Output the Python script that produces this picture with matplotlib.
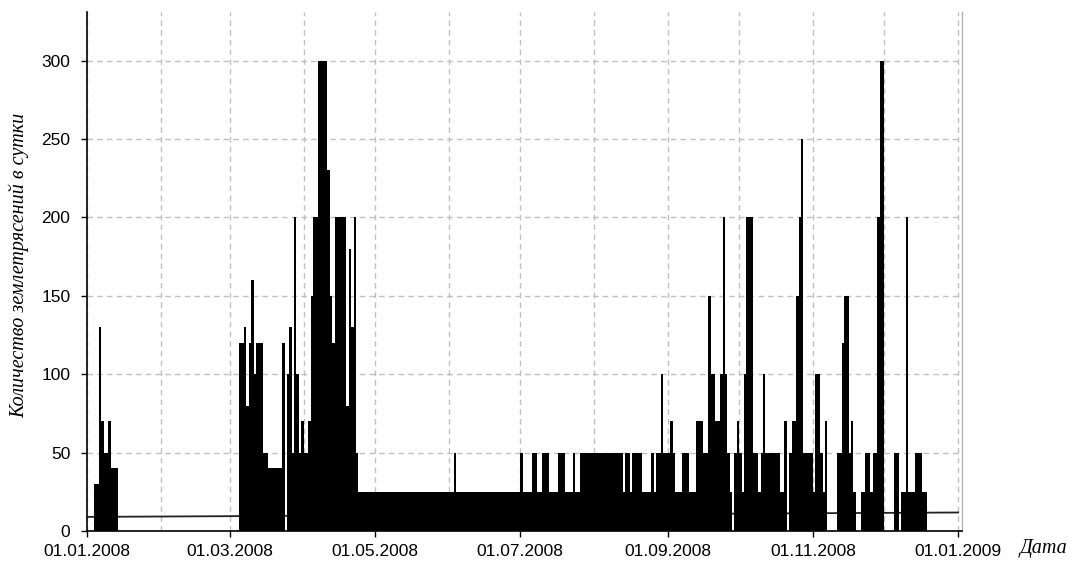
import numpy as np
import matplotlib
matplotlib.use("Agg")
import matplotlib.pyplot as plt
import matplotlib.dates as mdates

# ---------------- data ----------------
# Daily counts of earthquakes; each block of consecutive days starts at the given date
jan_start = "2008-01-04"
jan_counts = [30, 30, 130, 70, 50, 50, 70, 40, 40, 40]

spring_start = "2008-03-05"
spring_counts = [120, 120, 130, 80, 120, 160, 100, 120, 120, 120,
                 50, 50, 40, 40, 40, 40, 40, 40, 120, 0,
                 100, 130, 50, 200, 100, 50, 70, 50, 50, 70,
                 150, 200, 200, 300, 300, 300, 300, 230, 150, 120,
                 200, 200, 200, 200, 200, 80, 180, 130, 200, 50]

# From 24.04.2008 on: runs of equal daily counts (count, number of days)
late_start = "2008-04-24"
late_run_counts = [25, 50, 25, 50, 25, 50, 25, 50, 25, 50, 25, 50, 25, 50, 25, 50,
                   25, 50, 25, 50, 25, 50, 100, 50, 70, 50, 25, 50, 25, 70, 50,
                   150, 100, 70, 100, 200, 100, 50, 25, 0, 50, 70, 50, 25, 100,
                   200, 50, 25, 50, 100, 50, 25, 70, 0, 50, 70, 150, 200, 250,
                   50, 25, 100, 50, 25, 70, 0, 50, 120, 150, 50, 70, 25, 0, 25,
                   50, 25, 50, 200, 300, 0, 50, 0, 25, 200, 25, 50, 25]
late_run_days = [40, 1, 27, 1, 4, 2, 2, 3, 4, 3, 3, 1, 2, 18, 1, 2,
                 1, 4, 4, 1, 1, 2, 1, 3, 1, 1, 3, 3, 3, 3, 2,
                 1, 2, 2, 1, 1, 1, 1, 1, 1, 1, 1, 1, 1, 1,
                 3, 2, 1, 1, 1, 6, 2, 1, 1, 1, 2, 1, 1, 1,
                 4, 1, 2, 1, 1, 1, 4, 2, 1, 2, 1, 1, 1, 2, 2,
                 2, 1, 2, 1, 2, 4, 2, 1, 2, 1, 3, 3, 2]

# Straight reference line (count per day) at the start and end of the year
line_dates = ["2008-01-01", "2009-01-01"]
line_values = [9.0, 11.8]

tick_dates = ["2008-01-01", "2008-03-01", "2008-05-01", "2008-07-01",
              "2008-09-01", "2008-11-01", "2009-01-01"]
tick_labels = ["01.01.2008", "01.03.2008", "01.05.2008", "01.07.2008",
               "01.09.2008", "01.11.2008", "01.01.2009"]
y_ticks = [0, 50, 100, 150, 200, 250, 300]

ylabel = "Количество землетрясений в сутки"
xlabel = "Дата"

# ---------------- assemble daily series ----------------
def block_dates(start, n):
    return np.datetime64(start) + np.arange(n).astype("timedelta64[D]")

late_counts = np.repeat(late_run_counts, late_run_days)
dates = np.concatenate([block_dates(jan_start, len(jan_counts)),
                        block_dates(spring_start, len(spring_counts)),
                        block_dates(late_start, len(late_counts))])
counts = np.concatenate([jan_counts, spring_counts, late_counts])
xnum = mdates.date2num(dates.astype("datetime64[D]").astype(object))

# ---------------- plot ----------------
W, H = 1077, 577
fig = plt.figure(figsize=(W / 100, H / 100), dpi=100)
ax = fig.add_axes([87 / W, 1 - 531 / H, (962 - 87) / W, (531 - 12) / H])

ax.bar(xnum, counts, width=1.0, align="edge", color="black",
       linewidth=0, zorder=2)

lx = mdates.date2num([np.datetime64(d).astype(object) for d in line_dates])
ax.plot(lx, line_values, color="#222222", lw=1.3, zorder=1.5)

x0 = mdates.date2num(np.datetime64("2008-01-01").astype(object))
ax.set_xlim(x0, x0 + 367.6)
ax.set_ylim(0, 331)

tick_x = mdates.date2num([np.datetime64(d).astype(object) for d in tick_dates])
ax.set_xticks(tick_x)
ax.set_xticklabels(tick_labels)
ax.xaxis.set_minor_locator(mdates.MonthLocator())
ax.set_yticks(y_ticks)

for lab in ax.get_xticklabels() + ax.get_yticklabels():
    lab.set_fontfamily("Liberation Sans")
    lab.set_fontsize(12.5)

ax.tick_params(axis="x", which="major", direction="out", length=4, width=1,
               pad=5, colors="black")
ax.tick_params(axis="x", which="minor", length=0)
ax.tick_params(axis="y", direction="out", length=4, width=1, pad=8)

ax.set_axisbelow(True)
ax.grid(True, axis="y", color="#c0c0c0", linestyle=(0, (4, 3)), lw=1)
ax.grid(True, axis="x", which="both", color="#c0c0c0", linestyle=(0, (4, 3)), lw=1)

for s in ["left", "bottom"]:
    ax.spines[s].set_color("black")
    ax.spines[s].set_linewidth(1.2)
ax.spines["top"].set_visible(False)
ax.spines["right"].set_color("#b0b0b0")
ax.spines["right"].set_linewidth(1)

fig.text(19 / W, 1 - 265 / H, ylabel, rotation=90, ha="center", va="center",
         family="Liberation Serif", style="italic", fontsize=14.5)
fig.text(1020 / W, 1 - 549 / H, xlabel, ha="left", va="center",
         family="Liberation Serif", style="italic", fontsize=14.5)

fig.savefig("out.png", dpi=100, facecolor="white")
